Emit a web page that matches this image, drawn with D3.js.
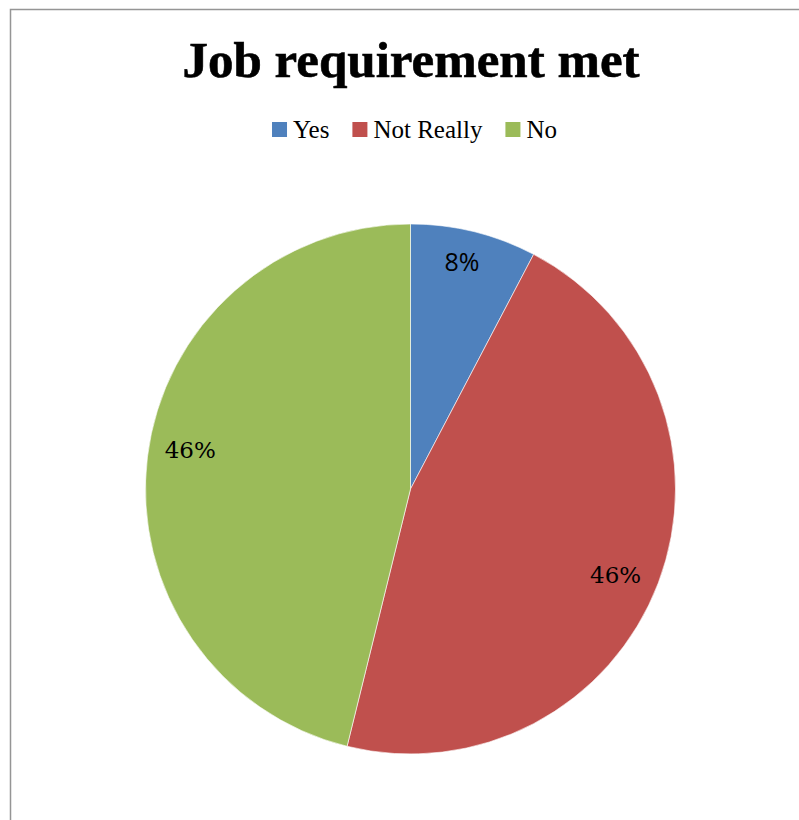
<!DOCTYPE html>
<html>
<head>
<meta charset="utf-8">
<script src="https://cdn.jsdelivr.net/npm/d3@7"></script>
<style>
  html, body { margin: 0; padding: 0; background: #fff; }
  svg { display: block; }
  .serif { font-family: "Liberation Serif", "Times New Roman", serif; }
  .pct-serif { font-family: "DejaVu Serif", serif; }
  .sans { font-family: "Open Sans", "Liberation Sans", sans-serif; }
</style>
</head>
<body>
<svg id="chart" width="799" height="820"></svg>
<script>
// Survey answers: was the job requirement met?
const categories = ["Yes", "Not Really", "No"];
const counts = [1, 6, 6];
const percentLabels = ["8%", "46%", "46%"];
const colors = ["#4F81BD", "#C0504D", "#9BBB59"];

const svg = d3.select("#chart");
const W = 799, H = 820;

// chart frame (only top and left edges fall inside the page)
svg.append("rect")
  .attr("x", 10.5).attr("y", 9.5)
  .attr("width", W + 20).attr("height", H + 20)
  .attr("fill", "#fff")
  .attr("stroke", "#959595")
  .attr("stroke-width", 1.5);

// title
svg.append("text")
  .attr("class", "serif")
  .attr("x", 411).attr("y", 77)
  .attr("text-anchor", "middle")
  .style("font-weight", "bold")
  .style("font-size", "51px")
  .attr("fill", "#000")
  .attr("stroke", "#000").attr("stroke-width", 0.6)
  .text("Job requirement met");

// legend
const legendSize = 25;
const sw = 15, gapSwatch = 6, gapItem = 23;
const measure = svg.append("text")
  .attr("class", "serif").style("font-size", legendSize + "px")
  .attr("visibility", "hidden");
const widths = categories.map(c => { measure.text(c); return measure.node().getComputedTextLength(); });
measure.remove();
const totalW = d3.sum(widths) + categories.length * (sw + gapSwatch) + (categories.length - 1) * gapItem;
let lx = 414.5 - totalW / 2;
const legend = svg.append("g");
categories.forEach((c, i) => {
  legend.append("rect")
    .attr("x", lx).attr("y", 122)
    .attr("width", sw).attr("height", sw)
    .attr("fill", colors[i]);
  legend.append("text")
    .attr("class", "serif")
    .attr("x", lx + sw + gapSwatch).attr("y", 138)
    .style("font-size", legendSize + "px")
    .attr("fill", "#000")
    .text(c);
  lx += sw + gapSwatch + widths[i] + gapItem;
});

// pie
const cx = 410.5, cy = 489, r = 265;
const pie = d3.pie().sort(null).value(d => d);
const arcs = pie(counts);
const arc = d3.arc().innerRadius(0).outerRadius(r);
const labelArc = d3.arc().innerRadius(r * 0.86).outerRadius(r * 0.86);
// small placement nudges for the percentage labels
const nudge = [[-3, -7], [-8, 5], [6, -12]];

const g = svg.append("g").attr("transform", `translate(${cx},${cy})`);
g.selectAll("path.slice")
  .data(arcs)
  .enter().append("path")
  .attr("class", "slice")
  .attr("d", arc)
  .attr("fill", (d, i) => colors[i])
  .attr("stroke", "#fff")
  .attr("stroke-width", 0.6);

arcs.forEach((d, i) => {
  const [x, y] = labelArc.centroid(d);
  g.append("text")
    .attr("class", i === 0 ? "sans" : "pct-serif")
    .attr("x", x + nudge[i][0])
    .attr("y", y + nudge[i][1])
    .attr("text-anchor", "middle")
    .attr("dominant-baseline", "central")
    .style("font-size", i === 0 ? "25px" : "23px")
    .attr("fill", "#000")
    .text(percentLabels[i]);
});
</script>
</body>
</html>
